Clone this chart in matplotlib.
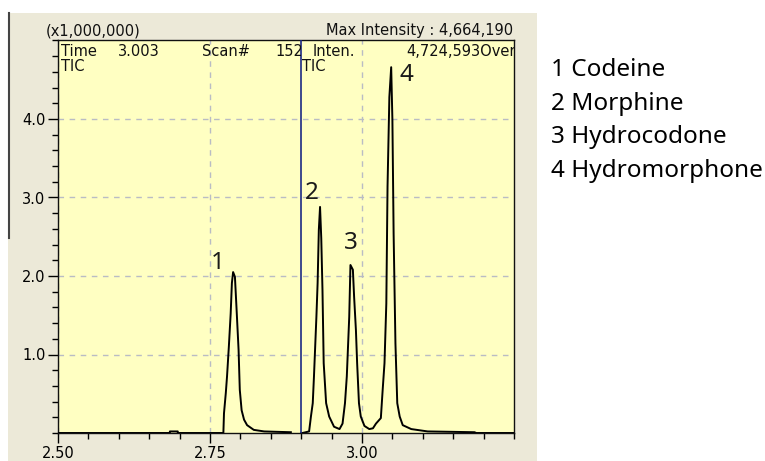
import matplotlib.pyplot as plt
import numpy as np
from matplotlib.patches import Rectangle
from matplotlib.lines import Line2D
from matplotlib.ticker import MultipleLocator, FixedLocator, FormatStrFormatter
from matplotlib.transforms import Bbox, TransformedBbox

# first time window (left of the divider), minutes / intensity x 1e6
seg1_time = [2.500, 2.684, 2.684, 2.697, 2.697, 2.772, 2.773, 2.776, 2.778,
             2.781, 2.784, 2.786, 2.788, 2.791, 2.794, 2.797, 2.799, 2.802,
             2.806, 2.811, 2.822, 2.839, 2.860, 2.883]
seg1_int = [0.00, 0.00, 0.02, 0.02, 0.00, 0.00, 0.25, 0.51, 0.72,
            1.10, 1.52, 1.91, 2.05, 1.99, 1.53, 1.06, 0.55, 0.29,
            0.17, 0.10, 0.04, 0.02, 0.015, 0.01]

# second time window
seg2_time = [2.900, 2.902, 2.913, 2.916, 2.919, 2.921, 2.923, 2.925, 2.927,
             2.929, 2.931, 2.933, 2.935, 2.937, 2.941, 2.946, 2.954, 2.963,
             2.968, 2.972, 2.975, 2.977, 2.979, 2.981, 2.985, 2.987, 2.990,
             2.992, 2.995, 2.998, 3.004, 3.012, 3.018, 3.023, 3.031, 3.034,
             3.037, 3.040, 3.042, 3.045, 3.048, 3.050, 3.052, 3.055, 3.058,
             3.062, 3.067, 3.081, 3.108, 3.185, 3.188, 3.250]
seg2_int = [0.00, 0.00, 0.02, 0.21, 0.38, 0.72, 1.10, 1.48, 1.91,
            2.59, 2.88, 2.48, 1.82, 0.89, 0.38, 0.21, 0.08, 0.05,
            0.12, 0.38, 0.72, 1.10, 1.48, 2.14, 2.08, 1.74, 1.31,
            0.89, 0.38, 0.21, 0.09, 0.05, 0.06, 0.12, 0.19, 0.55,
            0.89, 1.65, 3.14, 4.28, 4.66, 3.99, 2.54, 1.14, 0.38,
            0.21, 0.10, 0.05, 0.02, 0.01, 0.00, 0.00]

divider_time = 2.90
peak_ids = ["1", "2", "3", "4"]
peak_label_pos = [(2.763, 2.09), (2.918, 2.98), (2.982, 2.34), (3.073, 4.49)]
compounds = ["Codeine", "Morphine", "Hydrocodone", "Hydromorphone"]

x_major = [2.50, 2.75, 3.00]
y_major = [1.0, 2.0, 3.0, 4.0]

W, H = 765, 461


def fx(px):
    return px / W


def fy(py):
    return 1 - py / H


fig = plt.figure(figsize=(W / 100, H / 100), dpi=100)
fig.patch.set_facecolor("white")

# grey instrument-window background
fig.add_artist(Rectangle((fx(8), 0), fx(537) - fx(8), fy(13),
                         transform=fig.transFigure, facecolor="#ECE9D8",
                         edgecolor="none", zorder=0))
fig.add_artist(Line2D([fx(8.5), fx(8.5)], [fy(238), fy(13)],
                      transform=fig.transFigure, color="#444444", lw=1.5))

ax = fig.add_axes([fx(58), fy(433), fx(514) - fx(58), fy(40.5) - fy(433)])
ax.set_facecolor("#FFFFC2")
ax.set_xlim(2.50, 3.25)
ax.set_ylim(0, 5.0)

ax.xaxis.set_major_locator(FixedLocator(x_major))
ax.xaxis.set_minor_locator(MultipleLocator(0.05))
ax.yaxis.set_major_locator(FixedLocator(y_major))
ax.yaxis.set_minor_locator(MultipleLocator(0.2))
ax.xaxis.set_major_formatter(FormatStrFormatter("%.2f"))
ax.yaxis.set_major_formatter(FormatStrFormatter("%.1f"))
ax.tick_params(which="major", direction="out", length=7, width=1,
               labelsize=10.5, pad=2)
ax.tick_params(which="minor", direction="out", length=4, width=1)
for s in ax.spines.values():
    s.set_color("#111111")
    s.set_linewidth(1)

ax.grid(True, which="major", color="#B9BCC4", linestyle=(0, (4, 4)), lw=1)
ax.set_axisbelow(True)

ax.plot(seg1_time, seg1_int, color="black", lw=1.4, zorder=3)
ax.plot(seg2_time, seg2_int, color="black", lw=1.4, zorder=3)
ax.axvline(divider_time, color="#1C2A84", lw=1.2, zorder=4)

for lab, (tx, ty) in zip(peak_ids, peak_label_pos):
    ax.text(tx, ty, lab, family="Noto Sans", fontsize=17.5, color="#1a1a1a",
            ha="center", va="baseline", zorder=5)

# instrument header texts
tfont = dict(family="DejaVu Sans", fontsize=10.5, color="#111111")
fig.text(fx(46), fy(35), "(x1,000,000)", va="baseline", **tfont)
fig.text(fx(513), fy(35), "Max Intensity : 4,664,190", ha="right",
         va="baseline", **tfont)

left_clip = TransformedBbox(Bbox([[2.50, 0], [divider_time, 5]]), ax.transData)
for px, s in [(60.7, "Time"), (118, "3.003"), (201.7, "Scan#"), (275, "152")]:
    t = fig.text(fx(px), fy(55.5), s, va="baseline", **tfont)
    t.set_clip_on(True)
    t.set_clip_box(left_clip)
fig.text(fx(312.7), fy(55.5), "Inten.", va="baseline", **tfont)
t = fig.text(fx(516), fy(55.5), "4,724,593Over", ha="right", va="baseline",
             **tfont)
t.set_clip_on(True)
t.set_clip_box(ax.bbox)
fig.text(fx(60.7), fy(71), "TIC", va="baseline", **tfont)
fig.text(fx(301.7), fy(71), "TIC", va="baseline", **tfont)

# compound list
for i, (lab, name) in enumerate(zip(peak_ids, compounds)):
    fig.text(fx(551), fy(76 + 33.5 * i), f"{lab} {name}", family="Noto Sans",
             fontsize=17.5, color="black", va="baseline")

fig.savefig("out.png", dpi=100)
